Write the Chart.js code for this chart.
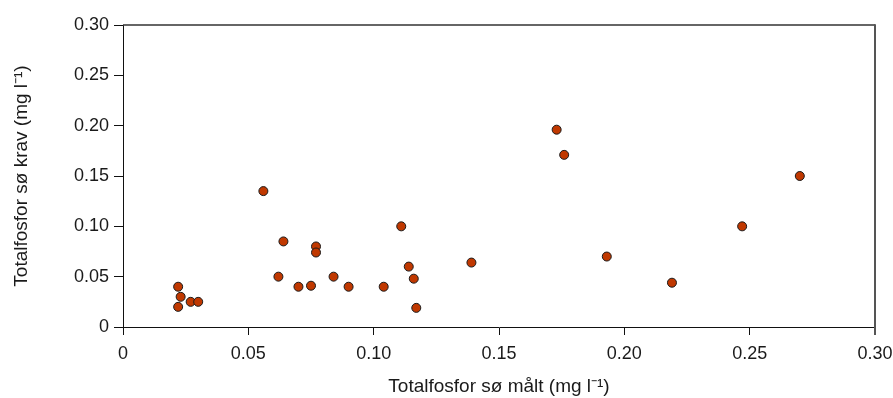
<!DOCTYPE html>
<html>
<head>
<meta charset="utf-8">
<script src="https://cdn.jsdelivr.net/npm/chart.js@4.4.0/dist/chart.umd.min.js"></script>
<style>
  html, body { margin: 0; padding: 0; background: #fff; }
  #wrap { width: 893px; height: 398px; }
</style>
</head>
<body>
<div id="wrap"><canvas id="chart"></canvas></div>
<script>
// Totalfosfor: målt (x) mot krav (y)
const maaltVerdier = [0.022, 0.023, 0.022, 0.027, 0.030, 0.056, 0.064, 0.062, 0.077, 0.077,
                      0.070, 0.075, 0.084, 0.090, 0.104, 0.111, 0.114, 0.116, 0.117, 0.139,
                      0.173, 0.176, 0.193, 0.219, 0.247, 0.270];
const kravVerdier  = [0.040, 0.030, 0.020, 0.025, 0.025, 0.135, 0.085, 0.050, 0.080, 0.074,
                      0.040, 0.041, 0.050, 0.040, 0.040, 0.100, 0.060, 0.048, 0.019, 0.064,
                      0.196, 0.171, 0.070, 0.044, 0.100, 0.150];
const tickVerdier = [0, 0.05, 0.10, 0.15, 0.20, 0.25, 0.30];

const punkter = maaltVerdier.map((x, i) => ({ x: x, y: kravVerdier[i] }));

const fontTick = { family: "'Liberation Sans', Arial, sans-serif", size: 18 };
const fontTittel = { family: "'Liberation Sans', Arial, sans-serif", size: 19 };
const tekstFarge = '#1a1a1a';

// ramme rundt plottet (topp og høyre)
const rammePlugin = {
    id: 'ramme',
    afterDraw(chart) {
        const { ctx, chartArea: a } = chart;
        ctx.save();
        ctx.strokeStyle = '#333';
        ctx.lineWidth = 1.5;
        ctx.beginPath();
        ctx.moveTo(a.left, a.top);
        ctx.lineTo(a.right, a.top);
        ctx.stroke();
        ctx.strokeStyle = '#555';
        ctx.lineWidth = 2;
        ctx.beginPath();
        ctx.moveTo(a.right, a.top - 0.75);
        ctx.lineTo(a.right, a.bottom + 8);
        ctx.stroke();
        ctx.restore();
    }
};

const fmt = v => v === 0 ? '0' : v.toFixed(2);

new Chart(document.getElementById('chart'), {
    type: 'scatter',
    data: {
        datasets: [{
            data: punkter,
            backgroundColor: 'rgb(192, 56, 0)',
            borderColor: '#1a1a1a',
            borderWidth: 1,
            pointRadius: 4.5,
            pointHoverRadius: 4.5
        }]
    },
    options: {
        responsive: true,
        maintainAspectRatio: false,
        animation: false,
        layout: { padding: { top: 25, right: 18, left: 0, bottom: 0 } },
        plugins: { legend: { display: false }, tooltip: { enabled: false } },
        scales: {
            x: {
                type: 'linear',
                min: 0, max: 0.30,
                afterBuildTicks: s => { s.ticks = tickVerdier.map(v => ({ value: v })); },
                afterFit: s => { s.height = 71; s.paddingRight = 0; s.paddingLeft = 0; },
                grid: { drawOnChartArea: false, tickLength: 8, color: '#111', lineWidth: 1 },
                border: { color: '#111', width: 1 },
                ticks: { callback: fmt, font: fontTick, color: tekstFarge, padding: 8, maxRotation: 0 },
                title: {
                    display: true, text: 'Totalfosfor sø målt (mg l⁻¹)',
                    font: fontTittel, color: tekstFarge, padding: { top: 4, bottom: 0 }
                }
            },
            y: {
                type: 'linear',
                min: 0, max: 0.30,
                afterBuildTicks: s => { s.ticks = tickVerdier.map(v => ({ value: v })); },
                afterFit: s => { s.width = 123; },
                grid: { drawOnChartArea: false, tickLength: 9, color: '#111', lineWidth: 1 },
                border: { color: '#111', width: 1 },
                ticks: { callback: fmt, font: fontTick, color: tekstFarge, padding: 5 },
                title: {
                    display: true, text: 'Totalfosfor sø krav (mg l⁻¹)',
                    font: fontTittel, color: tekstFarge, padding: { top: 10, bottom: 0 }
                }
            }
        }
    },
    plugins: [rammePlugin]
});
</script>
</body>
</html>
